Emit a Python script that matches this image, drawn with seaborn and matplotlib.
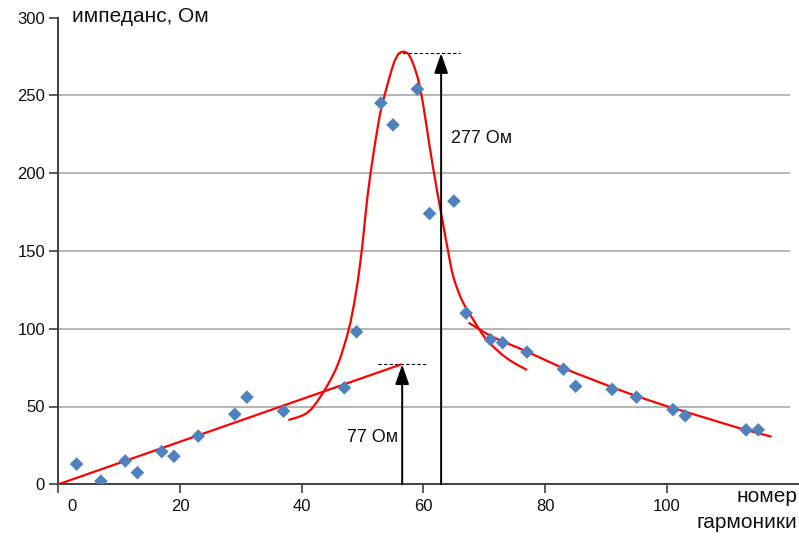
import matplotlib
matplotlib.use("Agg")
import matplotlib.pyplot as plt
import matplotlib.transforms as mtransforms
from matplotlib.path import Path
from matplotlib.patches import PathPatch
import numpy as np
import pandas as pd
import seaborn as sns

# Measured impedance at each harmonic number
harmonic = [3, 7, 11, 13, 17, 19, 23, 29, 31, 37, 47, 49, 53, 55, 59, 61, 65,
            67, 71, 73, 77, 83, 85, 91, 95, 101, 103, 113, 115]
impedance = [13, 2, 15, 7.5, 21, 18, 31, 45, 56, 47, 62, 98, 245, 231, 254, 174, 182,
             110, 93, 91, 85, 74, 63, 61, 56, 48, 44, 35, 35]

# Trend line below resonance (capacitive branch)
trend_low_x = [0, 56.3]
trend_low_y = [0, 77]

# Resonance curve
peak_x = [37.8, 40.3, 41.9, 44.1, 46.0, 47.7, 48.8, 49.6, 50.2, 50.8, 51.8, 52.9,
          54.0, 55.1, 55.9, 56.7, 57.5, 58.3, 59.2, 60.0, 61.1, 62.2, 63.3, 64.0,
          64.9, 66.3, 68.2, 70.4, 73.7, 77.0]
peak_y = [41.3, 44.6, 49.9, 62.8, 77.8, 99.2, 120.6, 142, 162.5, 185, 212.9, 238.6,
          255.7, 270.3, 276.5, 278, 276.5, 270.3, 259.0, 242.8, 215, 189.3, 165.7, 150.7,
          133.5, 118.5, 105.7, 92.8, 81, 73.5]

# Trend line above resonance
trend_high_x = [67.4, 71.5, 77.0, 82.4, 87.9, 93.4, 98.9, 101.1, 106.6, 112.0, 117.2]
trend_high_y = [103.9, 94.5, 85.3, 75.6, 67.1, 58.9, 51.6, 48.9, 42.4, 36.0, 30.6]

y_ticks = [0, 50, 100, 150, 200, 250, 300]
x_ticks = [0, 20, 40, 60, 80, 100]
grid_levels = [50, 100, 150, 200, 250]

low_peak = 77
high_peak = 277


def smooth_path(xs, ys):
    """Cubic Bezier path passing through the given vertices (Catmull-Rom tangents)."""
    pts = np.column_stack([xs, ys]).astype(float)
    n = len(pts)
    verts = [pts[0]]
    codes = [Path.MOVETO]
    for i in range(n - 1):
        p0 = pts[i - 1] if i > 0 else pts[i]
        p1 = pts[i]
        p2 = pts[i + 1]
        p3 = pts[i + 2] if i + 2 < n else pts[i + 1]
        c1 = p1 + (p2 - p0) / 6.0
        c2 = p2 - (p3 - p1) / 6.0
        verts.extend([c1, c2, p2])
        codes.extend([Path.CURVE4] * 3)
    return Path(np.array(verts), codes)


sns.set_theme(style="white")
plt.rcParams["font.family"] = ["Liberation Sans", "DejaVu Sans"]

fig = plt.figure(figsize=(7.99, 5.36), dpi=100)
ax = fig.add_axes([58.3 / 799, (536 - 484.3) / 536, 1 - 58.3 / 799, (484.3 - 17.5) / 536])
ax.set_xlim(0, 121.7)
ax.set_ylim(0, 300)

axis_col = "#404040"
ax.hlines(grid_levels, 0, 120.3, colors="#b4b4b4", linewidth=1.4, zorder=0)

red = "#ff0000"
lw = 1.6
sns.lineplot(x=trend_low_x, y=trend_low_y, color=red, linewidth=lw, ax=ax, sort=False,
             estimator=None, zorder=3)
for cx, cy in [(peak_x, peak_y), (trend_high_x, trend_high_y)]:
    ax.add_patch(PathPatch(smooth_path(cx, cy), facecolor="none", edgecolor=red,
                           linewidth=lw, capstyle="butt", joinstyle="round", zorder=3))

df = pd.DataFrame({"harmonic": harmonic, "impedance": impedance})
sns.scatterplot(data=df, x="harmonic", y="impedance", marker="D", s=48, color="#4f81bd",
                edgecolor="none", linewidth=0, ax=ax, zorder=4)

# Resonance amplitude markers
for x_arrow, level, x0, x1 in [(56.5, low_peak, 52.6, 60.6), (62.9, high_peak, 55.7, 66.0)]:
    ax.annotate("", xy=(x_arrow, level), xytext=(x_arrow, 0),
                arrowprops=dict(arrowstyle="-|>,head_length=1.2,head_width=0.42",
                                mutation_scale=10, color="black", lw=1.4,
                                shrinkA=0, shrinkB=0), zorder=5)
    ax.plot([x0, x1], [level, level], color="black", linewidth=0.8,
            linestyle=(0, (3, 2)), zorder=2)

ax.text(47.4, 30, "77 Ом", fontsize=13, va="center", ha="left", color="#111111")
ax.text(64.6, 222.5, "277 Ом", fontsize=13, va="center", ha="left", color="#111111")

ax.set_xticks(x_ticks)
ax.set_yticks(y_ticks)
ax.set_xticklabels([str(v) for v in x_ticks])
ax.set_yticklabels([str(v) for v in y_ticks])
ax.tick_params(axis="both", which="both", length=6.5, width=1.2, color=axis_col,
               labelsize=12, labelcolor="#111111", direction="out",
               bottom=True, left=True, pad=3)
ax.tick_params(axis="x", pad=4)
shift = mtransforms.ScaledTranslation(13.5 / 100, 0, fig.dpi_scale_trans)
first = ax.get_xticklabels()[0]
first.set_transform(first.get_transform() + shift)

ax.set_xlabel("")
ax.set_ylabel("")
for side in ["top", "right"]:
    ax.spines[side].set_visible(False)
for side in ["left", "bottom"]:
    ax.spines[side].set_color(axis_col)
    ax.spines[side].set_linewidth(1.4)

fig.text(72.5 / 799, 1 - 17 / 536, "импеданс, Ом", fontsize=15, ha="left", va="center",
         color="#111111")
fig.text(797 / 799, 1 - 497 / 536, "номер", fontsize=15, ha="right", va="center",
         color="#111111")
fig.text(797 / 799, 1 - 523 / 536, "гармоники", fontsize=15, ha="right", va="center",
         color="#111111")

fig.savefig("out.png", dpi=100)
